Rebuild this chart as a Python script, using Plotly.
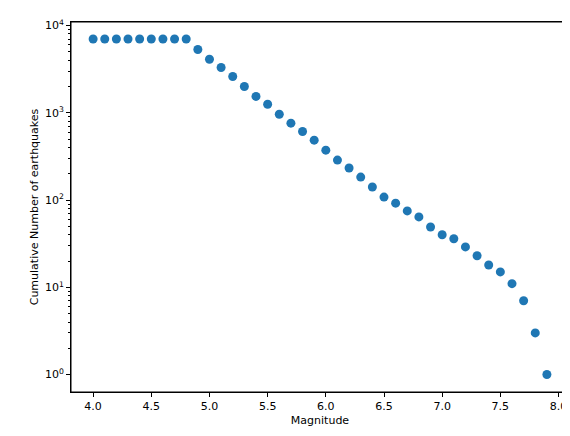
import plotly.graph_objects as go

magnitude = [round(4.0 + 0.1 * i, 1) for i in range(40)]
cumulative = [7000, 7000, 7000, 7000, 7000, 7000, 7000, 7000, 7000, 5300,
              4100, 3300, 2600, 2000, 1540, 1250, 960, 760, 610, 485,
              373, 287, 233, 183, 141, 108, 92, 75, 64, 49,
              40, 36, 29, 23, 18, 15, 11, 7, 3, 1]
ytick_vals = [1, 10, 100, 1000, 10000]
ytick_text = ["10<sup>0</sup>", "10<sup>1</sup>", "10<sup>2</sup>", "10<sup>3</sup>", "10<sup>4</sup>"]
xtick_vals = [4.0, 4.5, 5.0, 5.5, 6.0, 6.5, 7.0, 7.5, 8.0]

fig = go.Figure(go.Scatter(x=magnitude, y=cumulative, mode="markers",
                           marker=dict(color="#1f77b4", size=9)))
font = dict(family="DejaVu Sans", size=11, color="black")
axis_common = dict(showline=True, linecolor="black", linewidth=1, mirror=True, ticks="outside",
                   tickcolor="black", ticklen=4, showgrid=False, zeroline=False,
                   automargin=False, tickfont=font)
fig.update_xaxes(title=dict(text="Magnitude", font=font, standoff=4),
                 range=[3.81, 8.09], tickvals=xtick_vals,
                 ticktext=[f"{v:.1f}" for v in xtick_vals], **axis_common)
fig.update_yaxes(title=dict(text="Cumulative Number of earthquakes", font=font, standoff=4),
                 type="log", range=[-0.2, 4.04], tickvals=ytick_vals, ticktext=ytick_text,
                 minor=dict(ticks="outside", ticklen=2, tickcolor="black",
                            tickvals=[v * m for v in [1, 10, 100, 1000] for m in range(2, 10)]),
                 **axis_common)
fig.add_shape(type="rect", xref="paper", yref="paper", x0=0, y0=0, x1=1, y1=1,
              line=dict(color="black", width=1), fillcolor="rgba(0,0,0,0)", layer="above")
fig.update_layout(width=570, height=436, plot_bgcolor="white", paper_bgcolor="white",
                  margin=dict(l=63, r=9, t=14, b=52, autoexpand=False), showlegend=False)
fig.write_html("out.html")
